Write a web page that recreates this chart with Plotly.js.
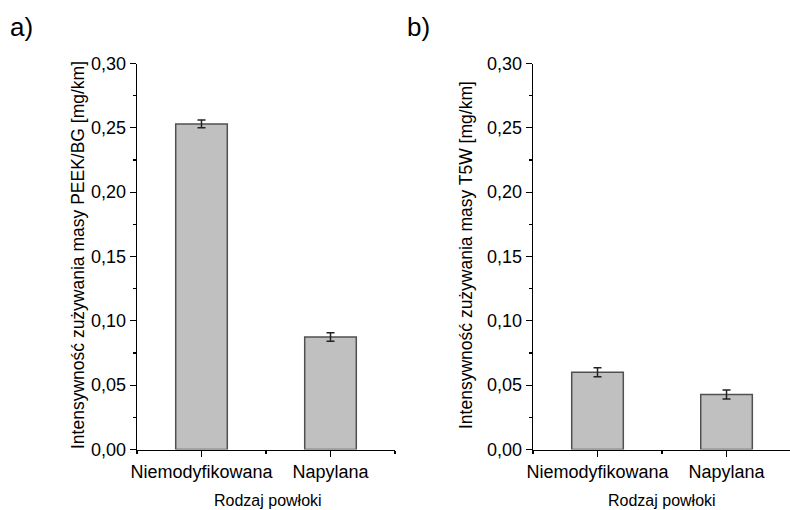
<!DOCTYPE html>
<html>
<head>
<meta charset="utf-8">
<script src="https://cdn.plot.ly/plotly-3.0.1.min.js"></script>
<style>html,body{margin:0;padding:0;background:#fff;}#chart{width:790px;height:510px;}</style>
</head>
<body>
<div id="chart"></div>
<script>
// Data
const categories = ["Niemodyfikowana", "Napylana"];
const peekValues = [0.253, 0.0875];
const peekErrors = [0.003, 0.0033];
const t5wValues = [0.060, 0.0428];
const t5wErrors = [0.0035, 0.0035];
const yTickVals = [0, 0.05, 0.10, 0.15, 0.20, 0.25, 0.30];

const font = "Liberation Sans, Arial, sans-serif";
const idx = categories.map((c, i) => i);

function barTrace(vals, errs, xa, ya) {
  return {
    type: "bar", x: idx, y: vals, xaxis: xa, yaxis: ya, width: 0.4,
    marker: {color: "#c0c0c0", line: {color: "#505050", width: 1.5}},
    error_y: {type: "data", array: errs, visible: true, color: "#222", thickness: 1.5, width: 4},
    hoverinfo: "none", showlegend: false
  };
}

function xAxis(domain, range, anchor) {
  return {
    domain: domain, range: range, anchor: anchor,
    showline: true, linecolor: "#000", linewidth: 1.3,
    tickmode: "array", tickvals: idx, ticktext: categories,
    ticks: "outside", ticklen: 6, tickwidth: 1.3, tickcolor: "#000",
    minor: {tickmode: "array", tickvals: [-0.5, 0.5, 1.5], ticks: "outside", ticklen: 3, tickwidth: 1.3, tickcolor: "#000"},
    showgrid: false, zeroline: false, fixedrange: true,
    tickfont: {family: font, size: 18, color: "#000"}
  };
}

function yAxis(domain, anchor) {
  return {
    domain: domain, range: [0, 0.30], anchor: anchor,
    showline: true, linecolor: "#000", linewidth: 1.3,
    tickmode: "array", tickvals: yTickVals, tickformat: ".2f",
    ticks: "outside", ticklen: 6, tickwidth: 1.3, tickcolor: "#000",
    minor: {dtick: 0.025, tick0: 0, ticks: "outside", ticklen: 3, tickwidth: 1.3, tickcolor: "#000"},
    showgrid: false, zeroline: false, fixedrange: true,
    tickfont: {family: font, size: 18, color: "#000"}
  };
}

const yDom = [1 - 449.5 / 510, 1 - 63.5 / 510];

const layout = {
  width: 790, height: 510,
  margin: {l: 0, r: 0, t: 0, b: 0},
  paper_bgcolor: "#fff", plot_bgcolor: "rgba(0,0,0,0)",
  separators: ",.",
  showlegend: false,
  xaxis: xAxis([137 / 790, 395 / 790], [-0.5, 1.5], "y"),
  yaxis: yAxis(yDom, "x"),
  xaxis2: xAxis([533 / 790, 1], [-0.5, 1.492], "y2"),
  yaxis2: yAxis(yDom, "x2"),
  annotations: [
    {text: "a)", xref: "paper", yref: "paper", x: 8 / 790, y: 1 - 27 / 510, xanchor: "left", yanchor: "middle", showarrow: false, font: {family: font, size: 26, color: "#000"}},
    {text: "b)", xref: "paper", yref: "paper", x: 405 / 790, y: 1 - 27 / 510, xanchor: "left", yanchor: "middle", showarrow: false, font: {family: font, size: 26, color: "#000"}},
    {text: "Intensywność zużywania masy PEEK/BG [mg/km]", xref: "paper", yref: "paper", x: 78 / 790, y: 1 - 255 / 510, xanchor: "center", yanchor: "middle", textangle: -90, showarrow: false, font: {family: font, size: 17.5, color: "#000"}},
    {text: "Intensywność zużywania masy T5W [mg/km]", xref: "paper", yref: "paper", x: 466 / 790, y: 1 - 255 / 510, xanchor: "center", yanchor: "middle", textangle: -90, showarrow: false, font: {family: font, size: 17.5, color: "#000"}},
    {text: "Rodzaj powłoki", xref: "paper", yref: "paper", x: 268 / 790, y: 1 - 500 / 510, xanchor: "center", yanchor: "middle", showarrow: false, font: {family: font, size: 16, color: "#000"}},
    {text: "Rodzaj powłoki", xref: "paper", yref: "paper", x: 662 / 790, y: 1 - 500 / 510, xanchor: "center", yanchor: "middle", showarrow: false, font: {family: font, size: 16, color: "#000"}}
  ]
};

Plotly.newPlot("chart", [
  barTrace(peekValues, peekErrors, "x", "y"),
  barTrace(t5wValues, t5wErrors, "x2", "y2")
], layout, {staticPlot: true, displayModeBar: false});
</script>
</body>
</html>
